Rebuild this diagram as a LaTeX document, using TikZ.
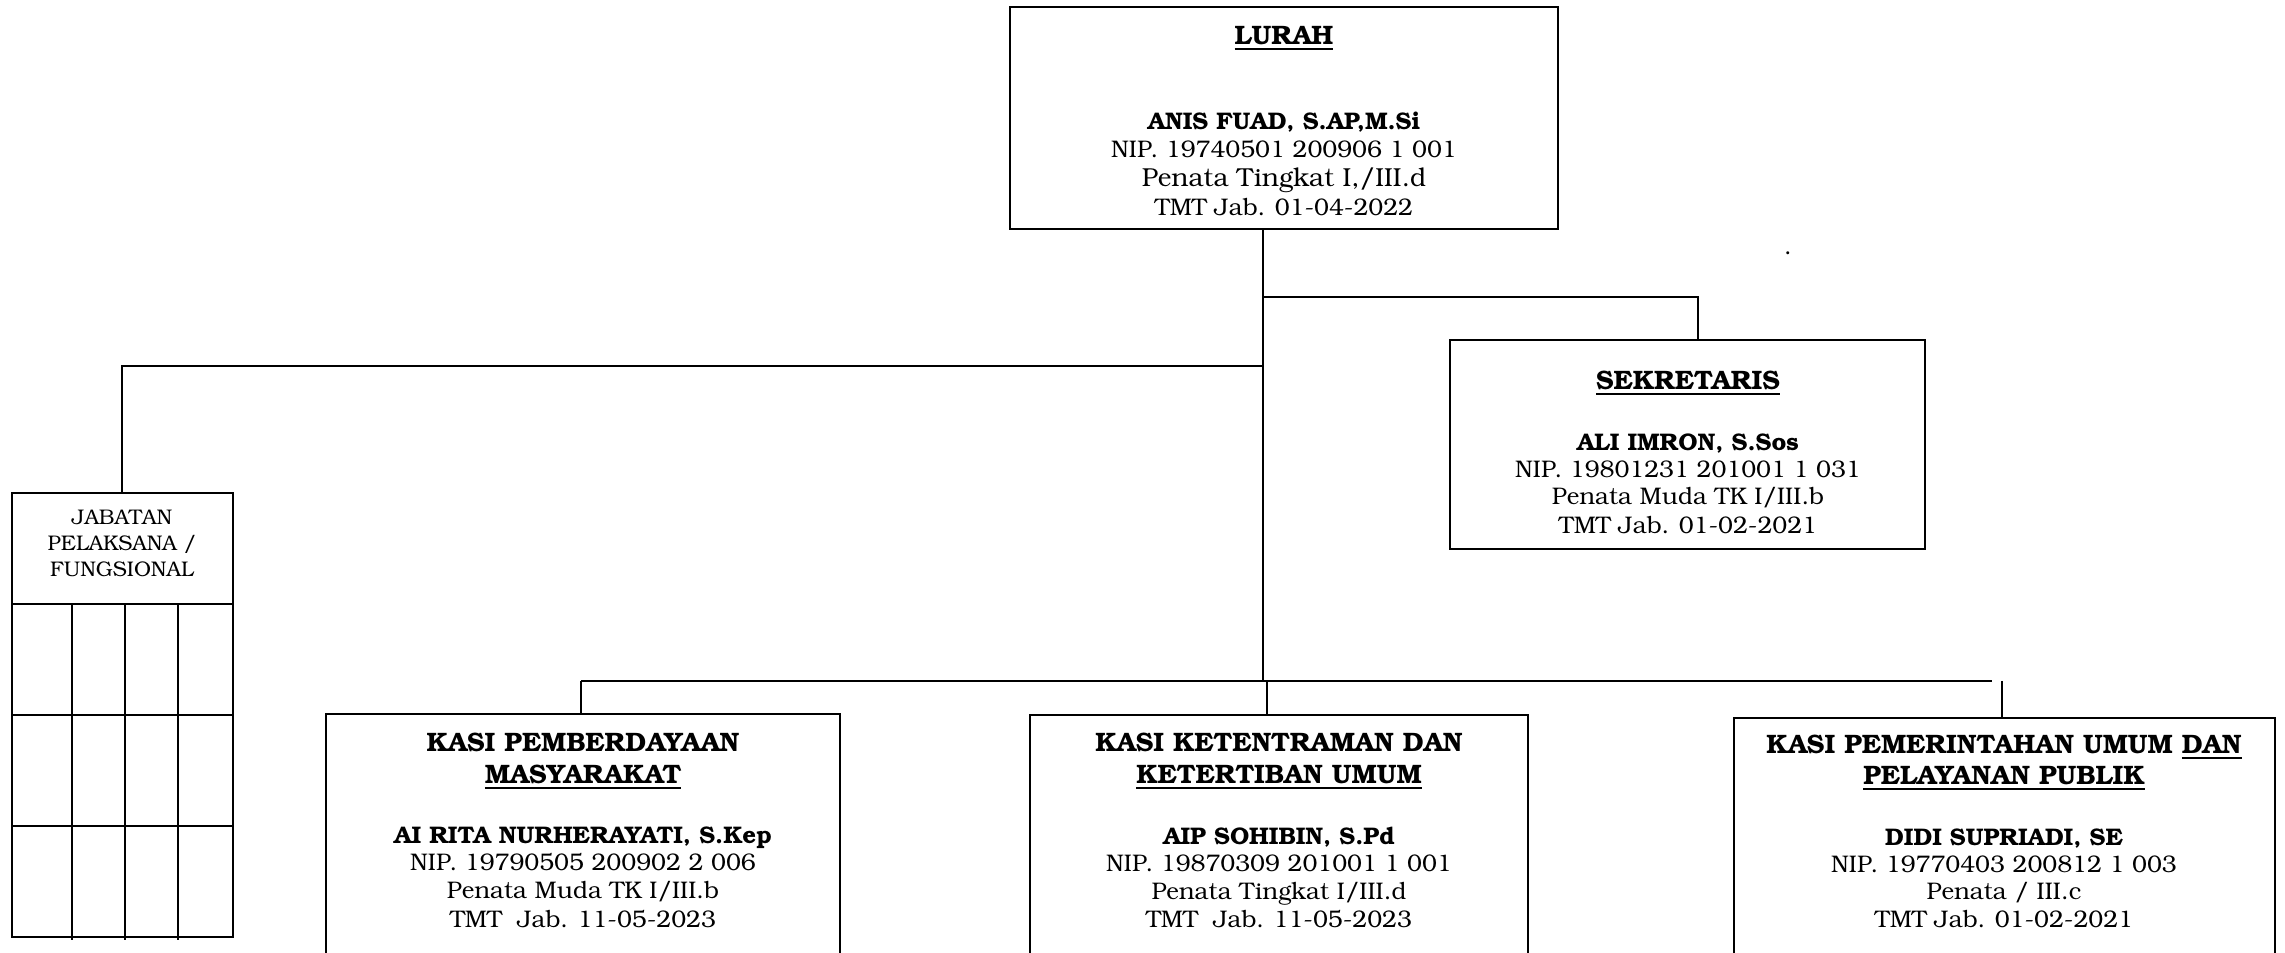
\documentclass[tikz,border=0pt]{standalone}
\usepackage[T1]{fontenc}
\usepackage{bookman}
\usetikzlibrary{fit}
\newcommand{\myul}[1]{\setbox0\hbox{#1}\rlap{\rule[-1.45pt]{\wd0}{0.55pt}}\box0}
\begin{document}
\begin{tikzpicture}[x=0.3pt,y=-0.3pt,
  box/.style={draw, line width=0.75pt, inner sep=0pt},
  conn/.style={line width=0.6pt},
  gridline/.style={line width=0.6pt},
  bt/.style={anchor=base, inner sep=0pt, font=\fontsize{7.2}{8.6}\selectfont},
  bt2/.style={anchor=base, inner sep=0pt, font=\fontsize{7.8}{9}\selectfont},
  bn/.style={anchor=base, inner sep=0pt, font=\fontsize{7.2}{8.6}\selectfont\bfseries},
  hd/.style={anchor=base, inner sep=0pt, font=\fontsize{8}{9.6}\selectfont\bfseries},
  sm/.style={anchor=base, inner sep=0pt, font=\fontsize{6.35}{7.5}\selectfont}]
\clip (0,0) rectangle (2285,953);
\fill[white] (0,0) rectangle (2285,953);

% ---------- boxes ----------
\node[box, fit={(1010,7) (1558,229)}] (lurah) {};
\node[box, fit={(1450,340) (1925,549)}] (sek) {};
\node[box, fit={(12,493) (233,937)}] (jab) {};
\node[box, fit={(326,714) (840,1040)}] (kpm) {};
\node[box, fit={(1030,715) (1528,1040)}] (kkt) {};
\node[box, fit={(1734,718) (2275,1040)}] (kpu) {};

% ---------- grid of JABATAN box ----------
\coordinate (g0) at (12,604);
\draw[gridline] (g0) -- (233,604);
\draw[gridline] (12,715) -- (233,715);
\draw[gridline] (12,826) -- (233,826);
\draw[gridline] (72,604) -- (72,940);
\draw[gridline] (125,604) -- (125,940);
\draw[gridline] (178,604) -- (178,940);

% ---------- connectors ----------
\coordinate (tTop) at (1263,229);
\coordinate (tSek) at (1263,297);
\coordinate (tJab) at (1263,366);
\coordinate (tBot) at (1263,681);
\coordinate (sekC) at (1698,297);
\coordinate (sekT) at (1698,340);
\coordinate (jabC) at (122,366);
\coordinate (jabT) at (122,493);
\coordinate (busL) at (581,681);
\coordinate (busR) at (1992,681);
\coordinate (kpmT) at (581,714);
\coordinate (kktB) at (1267,681);
\coordinate (kktT) at (1267,715);
\coordinate (kpuB) at (2002,681);
\coordinate (kpuT) at (2002,718);

\draw[conn] (tTop) -- (tBot);
\draw[conn] (tSek) -- (sekC) -- (sekT);
\draw[conn] (tJab) -- (jabC) -- (jabT);
\draw[conn] (busL) -- (busR);
\draw[conn] (busL) -- (kpmT);
\draw[conn] (kktB) -- (kktT);
\draw[conn] (kpuB) -- (kpuT);

% ---------- LURAH ----------
\node[hd] (l1) at (1284,45) {\myul{LURAH}};
\node[bn] (l2) at (1284,130) {ANIS FUAD, S.AP,M.Si};
\node[bt] (l3) at (1284,158) {NIP. 19740501 200906 1 001};
\node[bt2] (l4) at (1284,187) {Penata Tingkat I,/III.d};
\node[bt] (l5) at (1284,216) {TMT Jab. 01-04-2022};

% ---------- SEKRETARIS ----------
\node[hd] (s1) at (1688,390) {\myul{SEKRETARIS}};
\node[bn] (s2) at (1688,451) {ALI IMRON, S.Sos};
\node[bt] (s3) at (1688,478) {NIP. 19801231 201001 1 031};
\node[bt] (s4) at (1688,505) {Penata Muda TK I/III.b};
\node[bt] (s5) at (1688,534) {TMT Jab. 01-02-2021};

% ---------- JABATAN ----------
\node[sm] (j1) at (122,525) {JABATAN};
\node[sm] (j2) at (122,551) {PELAKSANA /};
\node[sm] (j3) at (122,577) {FUNGSIONAL};

% ---------- KASI PEMBERDAYAAN ----------
\node[hd] (a1) at (583,752) {KASI PEMBERDAYAAN};
\node[hd] (a2) at (583,784) {\myul{MASYARAKAT}};
\node[bn] (a3) at (583,844) {AI RITA NURHERAYATI, S.Kep};
\node[bt] (a4) at (583,871) {NIP. 19790505 200902 2 006};
\node[bt] (a5) at (583,899) {Penata Muda TK I/III.b};
\node[bt] (a6) at (583,928) {TMT\ \ Jab. 11-05-2023};

% ---------- KASI KETENTRAMAN ----------
\node[hd] (b1) at (1279,752) {KASI KETENTRAMAN DAN};
\node[hd] (b2) at (1279,784) {\myul{KETERTIBAN UMUM}};
\node[bn] (b3) at (1279,845) {AIP SOHIBIN, S.Pd};
\node[bt] (b4) at (1279,872) {NIP. 19870309 201001 1 001};
\node[bt] (b5) at (1279,900) {Penata Tingkat I/III.d};
\node[bt] (b6) at (1279,928) {TMT\ \ Jab. 11-05-2023};

% ---------- KASI PEMERINTAHAN ----------
\node[hd] (c1) at (2004,754) {KASI PEMERINTAHAN UMUM \myul{DAN}};
\node[hd] (c2) at (2004,785) {\myul{PELAYANAN PUBLIK}};
\node[bn] (c3) at (2004,846) {DIDI SUPRIADI, SE};
\node[bt] (c4) at (2004,873) {NIP. 19770403 200812 1 003};
\node[bt] (c5) at (2004,900) {Penata / III.c};
\node[bt] (c6) at (2004,928) {TMT Jab. 01-02-2021};

% stray dot
\node[bt] (dot) at (1788,255) {.};
\end{tikzpicture}
\end{document}
